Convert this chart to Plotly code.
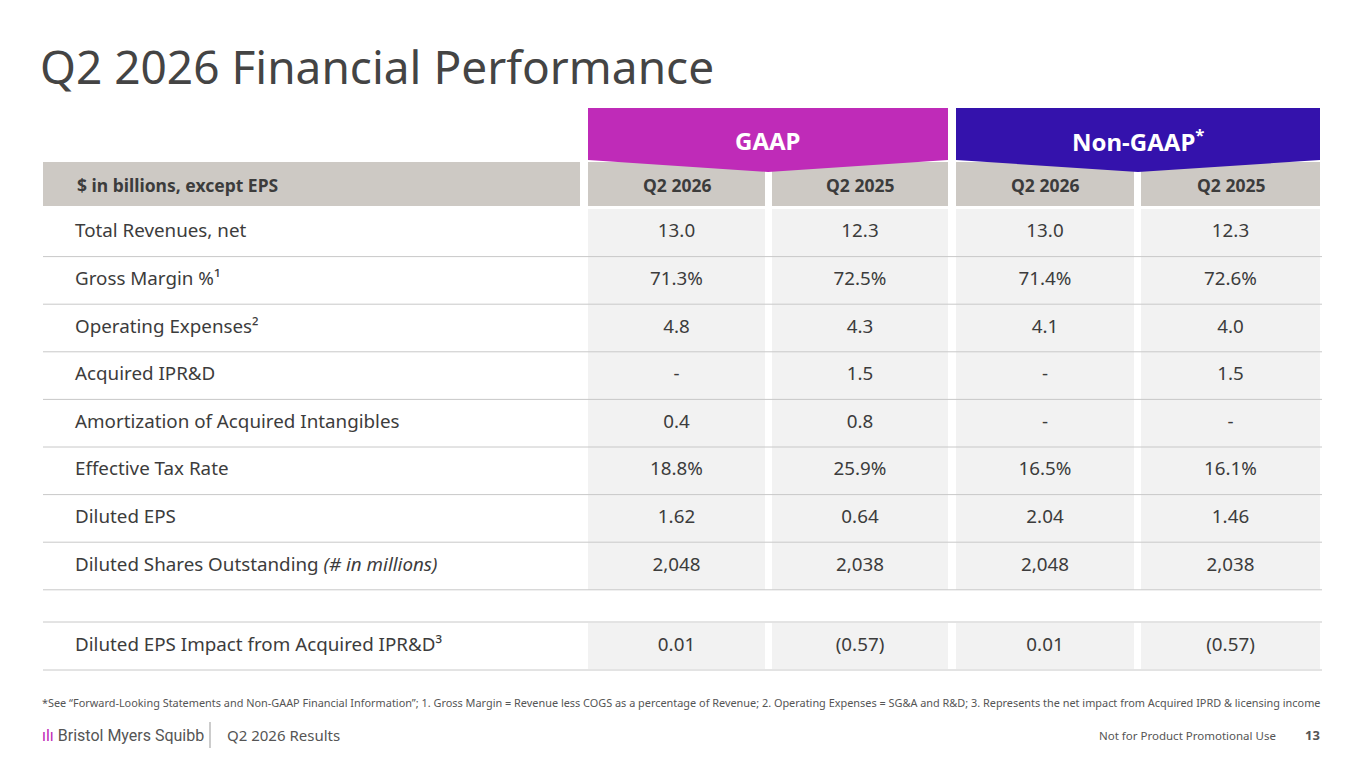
import plotly.graph_objects as go

# table content
row_labels = [
    "Total Revenues, net",
    "Gross Margin %¹",
    "Operating Expenses²",
    "Acquired IPR&D",
    "Amortization of Acquired Intangibles",
    "Effective Tax Rate",
    "Diluted EPS",
    "Diluted Shares Outstanding <i>(# in millions)</i>",
]
gaap_2026 = ["13.0", "71.3%", "4.8", "-", "0.4", "18.8%", "1.62", "2,048"]
gaap_2025 = ["12.3", "72.5%", "4.3", "1.5", "0.8", "25.9%", "0.64", "2,038"]
nongaap_2026 = ["13.0", "71.4%", "4.1", "-", "-", "16.5%", "2.04", "2,048"]
nongaap_2025 = ["12.3", "72.6%", "4.0", "1.5", "-", "16.1%", "1.46", "2,038"]

extra_label = "Diluted EPS Impact from Acquired IPR&D³"
extra_values = ["0.01", "(0.57)", "0.01", "(0.57)"]

col_headers = ["Q2 2026", "Q2 2025", "Q2 2026", "Q2 2025"]

FONT = "Noto Sans"
TXT = "#3c3c3c"
GRAY_HDR = "#cdc9c4"
CELL_BG = "#f2f2f2"
LINE = "#c8c8c8"

cols = [(588, 765), (772, 948), (956, 1134), (1141, 1320)]
row_top0, row_h = 209, 47.6

fig = go.Figure()
shapes = []

# group tabs
tabs = [("GAAP", "#bf2bb8", 588, 948), ("Non-GAAP<sup>*</sup>", "#3412ac", 956, 1320)]
for name, color, x0, x1 in tabs:
    xm = (x0 + x1) / 2
    shapes.append(dict(type="path", path=f"M{x0},108 L{x1},108 L{x1},160 L{xm},172 L{x0},160 Z",
                       fillcolor=color, line_width=0, layer="above"))
    fig.add_annotation(x=xm, y=140, text=f"<b>{name}</b>", showarrow=False,
                       font=dict(family=FONT, size=24, color="white"))

# header row
shapes.append(dict(type="rect", x0=43, x1=580, y0=162, y1=206, fillcolor=GRAY_HDR, line_width=0, layer="below"))
for (x0, x1) in cols:
    shapes.append(dict(type="rect", x0=x0, x1=x1, y0=162, y1=206, fillcolor=GRAY_HDR, line_width=0, layer="below"))
fig.add_annotation(x=75, y=185, text="<b>$ in billions, except EPS</b>", xanchor="left", showarrow=False,
                   font=dict(family=FONT, size=17.5, color=TXT))

n = len(row_labels)
ys = [row_top0 + row_h * (i + 0.5) for i in range(n)]
extra_y = 646

# cell backgrounds and separators
for i in range(n):
    t = row_top0 + row_h * i
    for (x0, x1) in cols:
        shapes.append(dict(type="rect", x0=x0, x1=x1, y0=t, y1=t + row_h, fillcolor=CELL_BG, line_width=0, layer="below"))
    shapes.append(dict(type="line", x0=43, x1=1322, y0=t + row_h, y1=t + row_h, line=dict(color=LINE, width=1)))
for (x0, x1) in cols:
    shapes.append(dict(type="rect", x0=x0, x1=x1, y0=623, y1=669, fillcolor=CELL_BG, line_width=0, layer="below"))
shapes.append(dict(type="line", x0=43, x1=1322, y0=622, y1=622, line=dict(color=LINE, width=1)))
shapes.append(dict(type="line", x0=43, x1=1322, y0=670, y1=670, line=dict(color=LINE, width=1)))

fig.add_trace(go.Scatter(x=[75] * n + [75], y=ys + [extra_y], text=row_labels + [extra_label],
                         mode="text", textposition="middle right",
                         textfont=dict(family=FONT, size=18.8, color=TXT), hoverinfo="skip"))

for ci, values in enumerate([gaap_2026, gaap_2025, nongaap_2026, nongaap_2025]):
    xm = sum(cols[ci]) / 2
    fig.add_trace(go.Scatter(x=[xm] * (n + 1), y=ys + [extra_y], text=values + [extra_values[ci]],
                             mode="text", textposition="middle center",
                             textfont=dict(family=FONT, size=18.8, color=TXT), hoverinfo="skip"))
    fig.add_annotation(x=xm, y=185, text=f"<b>{col_headers[ci]}</b>", showarrow=False,
                       font=dict(family=FONT, size=17.5, color=TXT))

# title and footer
fig.add_annotation(x=38, y=66, text="Q2 2026 Financial Performance", xanchor="left", showarrow=False,
                   font=dict(family=FONT, size=46, color="#444444"))
fig.add_annotation(x=40, y=702, xanchor="left", showarrow=False,
                   text="*See “Forward-Looking Statements and Non-GAAP Financial Information”; 1. Gross Margin = Revenue less COGS as a percentage of Revenue; 2. Operating Expenses = SG&A and R&D; 3. Represents the net impact from Acquired IPRD & licensing income",
                   font=dict(family=FONT, size=10.9, color="#555555"))
fig.add_annotation(x=40, y=735, xanchor="left", showarrow=False, text="<span style='color:#bf2bb8'>ılı</span> Bristol Myers Squibb",
                   font=dict(family="Roboto", size=16, color="#555555"))
shapes.append(dict(type="line", x0=210, x1=210, y0=722, y1=748, line=dict(color="#999999", width=1)))
fig.add_annotation(x=225, y=735, xanchor="left", showarrow=False, text="Q2 2026 Results",
                   font=dict(family=FONT, size=15, color="#555555"))
fig.add_annotation(x=1278, y=735, xanchor="right", showarrow=False, text="Not for Product Promotional Use",
                   font=dict(family=FONT, size=11.5, color="#555555"))
fig.add_annotation(x=1322, y=735, xanchor="right", showarrow=False, text="<b>13</b>",
                   font=dict(family=FONT, size=13, color="#555555"))

# ranges offset by the 8px page margin so coordinates match screen pixels
fig.update_layout(
    width=1365, height=769, margin=dict(l=0, r=0, t=0, b=0),
    plot_bgcolor="white", paper_bgcolor="white", showlegend=False,
    xaxis=dict(range=[8, 1373], visible=False, fixedrange=True),
    yaxis=dict(range=[777, 8], visible=False, fixedrange=True),
    shapes=shapes,
)
fig.write_html("out.html")
